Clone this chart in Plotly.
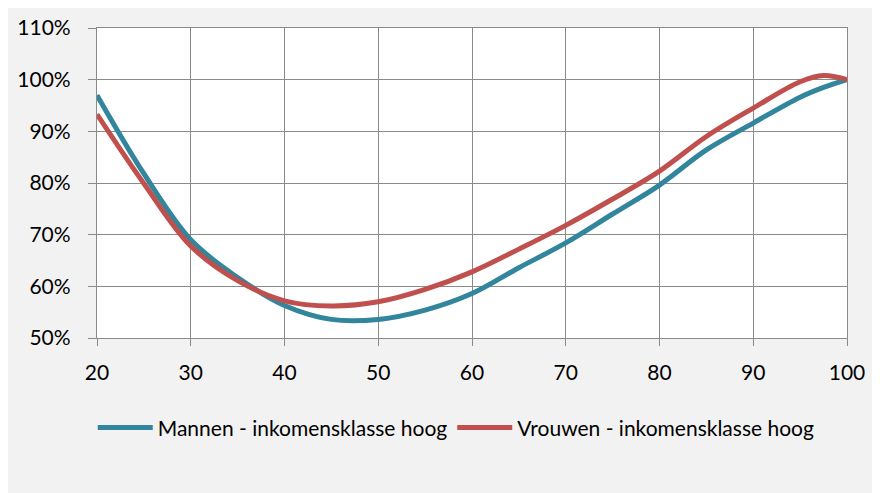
import plotly.graph_objects as go

ages = [20, 25, 30, 35, 40, 45, 50, 55, 60, 65, 70, 75, 80, 85, 90, 95, 97.5, 100]
mannen = [97.0, 81.8, 69.0, 61.7, 56.3, 53.6, 53.6, 55.4, 58.6, 63.6, 68.4, 74.0, 79.6, 86.4, 91.6, 96.6, 98.5, 100.0]
vrouwen = [93.3, 79.9, 67.8, 61.1, 57.2, 56.2, 57.0, 59.4, 62.8, 67.2, 71.8, 76.9, 82.3, 89.0, 94.5, 99.6, 100.8, 100.0]
names = ["Mannen - inkomensklasse hoog", "Vrouwen - inkomensklasse hoog"]
colors = ["#31859C", "#C0504D"]

x_ticks = [20, 30, 40, 50, 60, 70, 80, 90, 100]
y_ticks = [50, 60, 70, 80, 90, 100, 110]
y_labels = [f"{v}%" for v in y_ticks]

FONT = "Lato"
GRID = "#8a8a8a"

fig = go.Figure()
for name, vals, col in zip(names, [mannen, vrouwen], colors):
    fig.add_trace(go.Scatter(
        x=ages, y=vals, name=name, mode="lines",
        line=dict(color=col, width=5, shape="spline", smoothing=1.0),
        hoverinfo="skip",
    ))

W, H = 880, 493
L, R, T, B = 89, 41, 20, 163

fig.update_layout(
    width=W, height=H,
    margin=dict(l=L, r=R, t=T, b=B, autoexpand=False),
    paper_bgcolor="#f2f2f2",
    plot_bgcolor="#ffffff",
    font=dict(family=FONT, size=21, color="#000000"),
    showlegend=True,
    legend=dict(
        orientation="h", x=0.479, y=-0.29, xanchor="center", yanchor="middle",
        bgcolor="rgba(0,0,0,0)", font=dict(family=FONT, size=21, color="#000000"),
        itemwidth=55, traceorder="normal",
    ),
)

fig.update_xaxes(
    range=[20, 100], tickvals=x_ticks, ticktext=[str(v) for v in x_ticks],
    showgrid=True, gridcolor=GRID, gridwidth=1.3,
    showline=True, linecolor=GRID, linewidth=1.3, mirror=True,
    ticks="outside", ticklen=7, tickcolor=GRID, tickwidth=1.3,
    ticklabelstandoff=9, zeroline=False, automargin=False,
)
fig.update_yaxes(
    range=[50, 110], tickvals=y_ticks, ticktext=y_labels,
    showgrid=True, gridcolor=GRID, gridwidth=1.3,
    showline=True, linecolor=GRID, linewidth=1.3, mirror=True,
    ticks="outside", ticklen=8, tickcolor=GRID, tickwidth=1.3,
    ticklabelstandoff=13, zeroline=False, automargin=False,
)

fig.write_html("out.html")
